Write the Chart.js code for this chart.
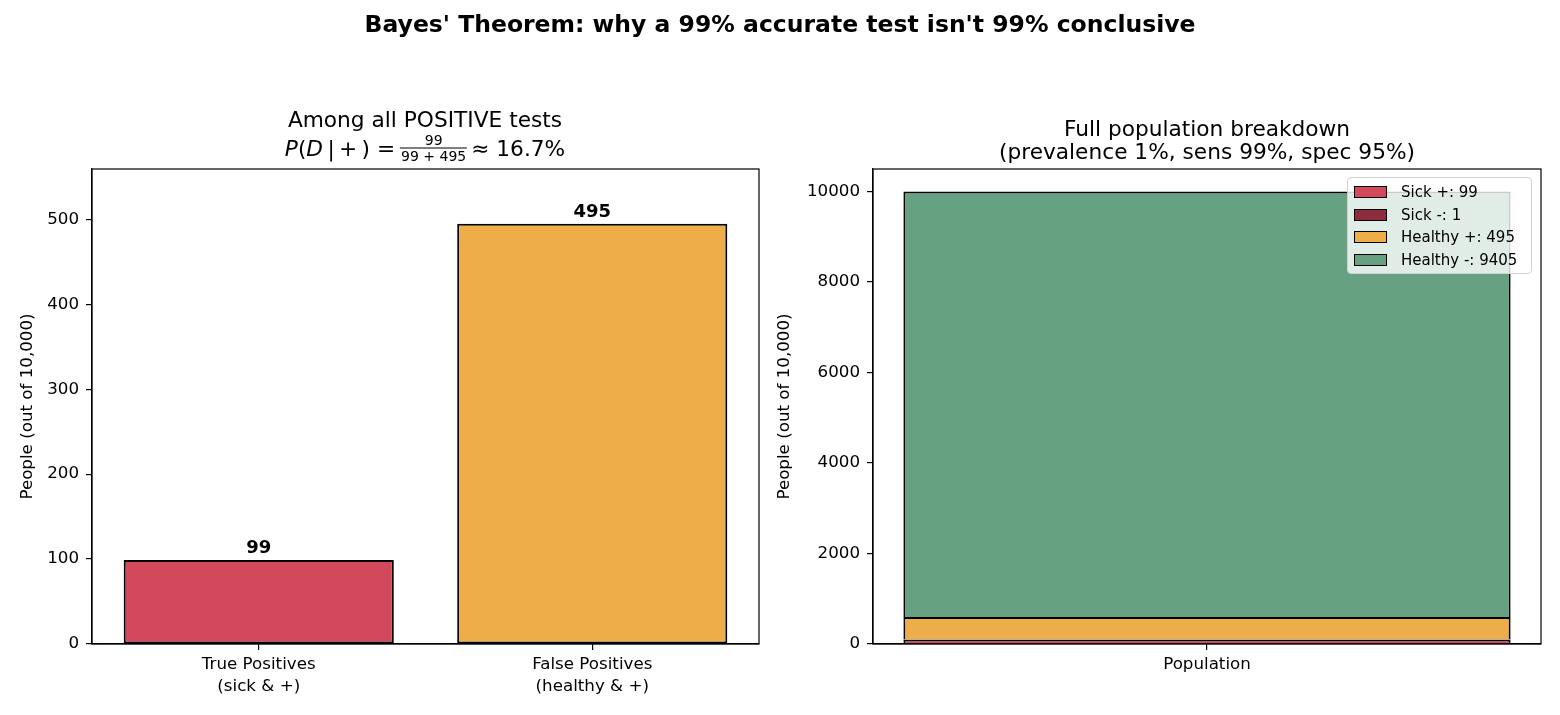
<!DOCTYPE html>
<html>
<head>
<meta charset="utf-8">
<script src="https://cdn.jsdelivr.net/npm/chart.js@4"></script>
<style>
  body { margin: 0; background: #fff; font-family: "DejaVu Sans", sans-serif; color: #000; }
  #wrap { position: relative; width: 1560px; height: 715px; overflow: hidden; }
  canvas { position: absolute; top: 0; }
  .txt { position: absolute; transform: translate(-50%, -50%); white-space: nowrap; }
  .frac { display: inline-flex; flex-direction: column; align-items: center; vertical-align: middle;
          font-size: 14px; line-height: 15px; margin: 0 4px 0 5px; position: relative; top: -2px; }
  .frac .den { border-top: 1px solid #000; padding: 0 1px; }
  #legend { position: absolute; left: 1347px; top: 177px; width: 185px; height: 97px;
            background: rgba(255,255,255,0.8); border: 1px solid #d0d0d0; border-radius: 4px;
            box-sizing: border-box; font-size: 15px; }
  .row { position: absolute; left: 6px; height: 20px; display: flex; align-items: center; }
  .sw { width: 31px; height: 10px; border: 1.5px solid #000; margin-right: 14px; }
</style>
</head>
<body>
<div id="wrap">
  <canvas id="left-chart" width="765" height="715" style="left:0px"></canvas>
  <canvas id="right-chart" width="795" height="715" style="left:765px"></canvas>

  <div class="txt" style="left:780px; top:24px; font-size:23.5px; font-weight:bold;">Bayes' Theorem: why a 99% accurate test isn't 99% conclusive</div>

  <div class="txt" style="left:425px; top:119px; font-size:21.7px;">Among all POSITIVE tests</div>
  <div class="txt" style="left:425px; top:150px; font-size:21.7px;">
    <i>P</i>(<i>D</i>&thinsp;|&thinsp;+&thinsp;) =<span class="frac"><span class="num">99</span><span class="den">99 + 495</span></span>≈ 16.7%
  </div>

  <div class="txt" style="left:1207px; top:128px; font-size:21.7px;">Full population breakdown</div>
  <div class="txt" style="left:1207px; top:151px; font-size:21.7px;">(prevalence 1%, sens 99%, spec 95%)</div>

  <div id="legend"></div>
</div>

<script>
// left panel: positive tests only
const positiveLabels = [['True Positives', '(sick & +)'], ['False Positives', '(healthy & +)']];
const positiveValues = [99, 495];
const positiveColors = ['#d1495b', '#edae49'];
const leftTicks = [0, 100, 200, 300, 400, 500];

// right panel: whole population, stacked
const popCategories = ['Population'];
const popGroups = ['Sick +', 'Sick -', 'Healthy +', 'Healthy -'];
const popValues = [99, 1, 495, 9405];
const popColors = ['#d1495b', '#8c2d3d', '#edae49', '#66a182'];
const rightTicks = [0, 2000, 4000, 6000, 8000, 10000];

const FONT = 'DejaVu Sans';
Chart.defaults.font.family = FONT;
Chart.defaults.color = '#000';
Chart.defaults.animation = false;

// draw the full box around the plot area, like matplotlib spines
const frameBox = {
  id: 'frameBox',
  afterDraw(chart) {
    const { ctx, chartArea: a } = chart;
    ctx.save();
    ctx.strokeStyle = '#000';
    ctx.lineWidth = 1.2;
    ctx.strokeRect(a.left, a.top, a.right - a.left, a.bottom - a.top);
    ctx.restore();
  }
};

// bold value above each bar in the left panel
const valueLabels = {
  id: 'valueLabels',
  afterDatasetsDraw(chart) {
    const ctx = chart.ctx;
    const meta = chart.getDatasetMeta(0);
    ctx.save();
    ctx.font = 'bold 18px ' + FONT;
    ctx.fillStyle = '#000';
    ctx.textAlign = 'center';
    ctx.textBaseline = 'alphabetic';
    meta.data.forEach((bar, i) => {
      ctx.fillText(String(positiveValues[i]), bar.x, bar.y - 7);
    });
    ctx.restore();
  }
};

function yAxis(max, ticks, width, titlePad) {
  return {
    min: 0,
    max: max,
    afterBuildTicks: (scale) => { scale.ticks = ticks.map(v => ({ value: v })); },
    afterFit: (scale) => { scale.width = width; },
    grid: { drawOnChartArea: false, tickLength: 6, color: '#000', lineWidth: 1.2 },
    border: { color: '#000', width: 1.2 },
    ticks: { font: { size: 16.7 }, padding: 7, color: '#000', callback: (v) => String(v) },
    title: { display: true, text: 'People (out of 10,000)', font: { size: 16.7 }, padding: { top: titlePad, bottom: 0 } }
  };
}

function xAxis(stacked) {
  return {
    stacked: stacked,
    afterFit: (scale) => { scale.height = 71; },
    grid: { offset: false, drawOnChartArea: false, tickLength: 6, color: '#000', lineWidth: 1.2 },
    border: { color: '#000', width: 1.2 },
    ticks: { font: { size: 16.7, lineHeight: 1.3 }, padding: 4, color: '#000', maxRotation: 0 }
  };
}

new Chart(document.getElementById('left-chart').getContext('2d'), {
  type: 'bar',
  data: {
    labels: positiveLabels,
    datasets: [{
      data: positiveValues,
      backgroundColor: positiveColors,
      borderColor: '#000',
      borderWidth: 2,
      borderSkipped: false,
      barPercentage: 0.81,
      categoryPercentage: 1
    }]
  },
  options: {
    responsive: false,
    devicePixelRatio: 1,
    layout: { padding: { left: 0, right: 6, top: 169, bottom: 0 } },
    plugins: { legend: { display: false }, tooltip: { enabled: false } },
    scales: {
      x: xAxis(false),
      y: yAxis(559.35, leftTicks, 92, 18)
    }
  },
  plugins: [frameBox, valueLabels]
});

new Chart(document.getElementById('right-chart').getContext('2d'), {
  type: 'bar',
  data: {
    labels: popCategories,
    datasets: popGroups.map((g, i) => ({
      label: g + ': ' + popValues[i],
      data: [popValues[i]],
      backgroundColor: popColors[i],
      borderColor: '#000',
      borderWidth: 2,
      borderSkipped: 'start',
      barPercentage: 0.909,
      categoryPercentage: 1
    }))
  },
  options: {
    responsive: false,
    devicePixelRatio: 1,
    layout: { padding: { left: 0, right: 19, top: 169, bottom: 0 } },
    plugins: { legend: { display: false }, tooltip: { enabled: false } },
    scales: {
      x: xAxis(true),
      y: Object.assign(yAxis(10500, rightTicks, 108, 10), { stacked: true })
    }
  },
  plugins: [frameBox]
});

// legend box inside the right plot
const legend = document.getElementById('legend');
popGroups.forEach((g, i) => {
  const row = document.createElement('div');
  row.className = 'row';
  row.style.top = (4 + i * 22.5) + 'px';
  row.innerHTML = '<span class="sw" style="background:' + popColors[i] + '"></span><span>' + g + ': ' + popValues[i] + '</span>';
  legend.appendChild(row);
});
</script>
</body>
</html>
